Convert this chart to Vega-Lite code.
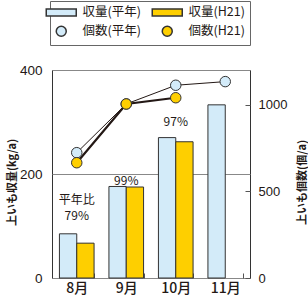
{
  "$schema": "https://vega.github.io/schema/vega-lite/v6.json",
  "autosize": "none",
  "width": 198,
  "height": 208,
  "padding": {"left": 52, "top": 70, "right": 58, "bottom": 26},
  "background": "white",
  "config": {
    "view": {"stroke": "#333", "strokeWidth": 1},
    "font": "Noto Sans CJK JP",
    "axis": {"labelColor": "#231815", "titleColor": "#231815", "domain": false, "labelFont": "Liberation Sans"},
    "legend": {
      "title": null, "orient": "none", "legendX": -2, "legendY": -69,
      "columns": 2, "direction": "horizontal", "columnPadding": 8, "rowPadding": 4,
      "strokeColor": "#666", "padding": 5,
      "labelFontSize": 12.5, "labelFont": "Noto Sans CJK JP", "labelColor": "#231815", "labelOffset": 15,
      "symbolSize": 100
    }
  },
  "datasets": {
    "bars": [
      {"month": "8月", "series": "収量(平年)", "value": 85},
      {"month": "8月", "series": "収量(H21)", "value": 67},
      {"month": "9月", "series": "収量(平年)", "value": 176},
      {"month": "9月", "series": "収量(H21)", "value": 175},
      {"month": "10月", "series": "収量(平年)", "value": 270},
      {"month": "10月", "series": "収量(H21)", "value": 262},
      {"month": "11月", "series": "収量(平年)", "value": 333}
    ],
    "counts": [
      {"month": "8月", "series": "個数(平年)", "count": 723},
      {"month": "9月", "series": "個数(平年)", "count": 1004},
      {"month": "10月", "series": "個数(平年)", "count": 1112},
      {"month": "11月", "series": "個数(平年)", "count": 1133},
      {"month": "8月", "series": "個数(H21)", "count": 665},
      {"month": "9月", "series": "個数(H21)", "count": 1004},
      {"month": "10月", "series": "個数(H21)", "count": 1040}
    ],
    "notes": [
      {"month": "8月", "y": 150, "text": "平年比"},
      {"month": "8月", "y": 119, "text": "79%"},
      {"month": "9月", "y": 187, "text": "99%"},
      {"month": "10月", "y": 300, "text": "97%"}
    ]
  },
  "encoding": {
    "x": {
      "field": "month", "type": "nominal", "sort": ["8月", "9月", "10月", "11月"],
      "scale": {"paddingInner": 0.3, "paddingOuter": 0.15},
      "axis": {"title": null, "labelAngle": 0, "labelFontSize": 14, "labelPadding": 8, "tickBand": "extent", "tickSize": -5, "tickColor": "#555", "labelFont": "Noto Sans CJK JP", "labelFontWeight": 500}
    }
  },
  "layer": [
    {
      "layer": [
        {
          "data": {"name": "bars"},
          "mark": {"type": "bar", "stroke": "#333", "strokeWidth": 1},
          "encoding": {
            "xOffset": {"field": "series", "type": "nominal", "scale": {"domain": ["収量(平年)", "収量(H21)"]}},
            "y": {
              "field": "value", "type": "quantitative",
              "scale": {"domain": [0, 400]},
              "axis": {"orient": "left", "values": [0, 200, 400], "grid": true, "gridColor": "#888", "ticks": false, "labelFontSize": 13.5, "labelPadding": 10,
                "title": "上いも収量(kg/a)", "titleFontSize": 11, "titleFontWeight": "bold", "titleBaseline": "middle", "titleX": -40, "titleY": 112}
            },
            "fill": {
              "field": "series", "type": "nominal",
              "scale": {"domain": ["収量(平年)", "収量(H21)", "個数(平年)", "個数(H21)"], "range": ["#d3ebf9", "#fecf00", "#d3ebf9", "#fecf00"]}
            }
          }
        },
        {
          "data": {"name": "notes"},
          "mark": {"type": "text", "fontSize": 12, "font": "Noto Sans CJK JP", "color": "#231815"},
          "encoding": {
            "y": {"field": "y", "type": "quantitative"},
            "text": {"field": "text"}
          }
        }
      ]
    },
    {
      "data": {"name": "counts"},
      "layer": [
        {
          "mark": {"type": "line", "color": "#231815"},
          "encoding": {
            "y": {
              "field": "count", "type": "quantitative",
              "scale": {"domain": [0, 1200]},
              "axis": {"orient": "right", "values": [0, 500, 1000], "format": "d", "grid": false, "tickSize": -5, "tickColor": "#555", "labelFontSize": 13, "labelPadding": 13,
                "title": "上いも個数(個/a)", "titleFontSize": 11, "titleFontWeight": "bold", "titleAngle": 270, "titleBaseline": "middle", "titleX": 52, "titleY": 112}
            },
            "detail": {"field": "series"},
            "strokeWidth": {"field": "series", "type": "nominal", "scale": {"domain": ["個数(平年)", "個数(H21)"], "range": [1, 2.2]}, "legend": null}
          }
        },
        {
          "mark": {"type": "point", "filled": true, "size": 110, "stroke": "#333", "strokeWidth": 1, "opacity": 1},
          "encoding": {
            "y": {"field": "count", "type": "quantitative"},
            "fill": {"field": "series", "type": "nominal"},
            "shape": {
              "field": "series", "type": "nominal",
              "scale": {"domain": ["収量(平年)", "収量(H21)", "個数(平年)", "個数(H21)"], "range": ["M-3,-0.7H3V0.7H-3Z", "M-3,-0.7H3V0.7H-3Z", "circle", "circle"]}
            }
          }
        }
      ]
    }
  ],
  "resolve": {"scale": {"y": "independent"}}
}
